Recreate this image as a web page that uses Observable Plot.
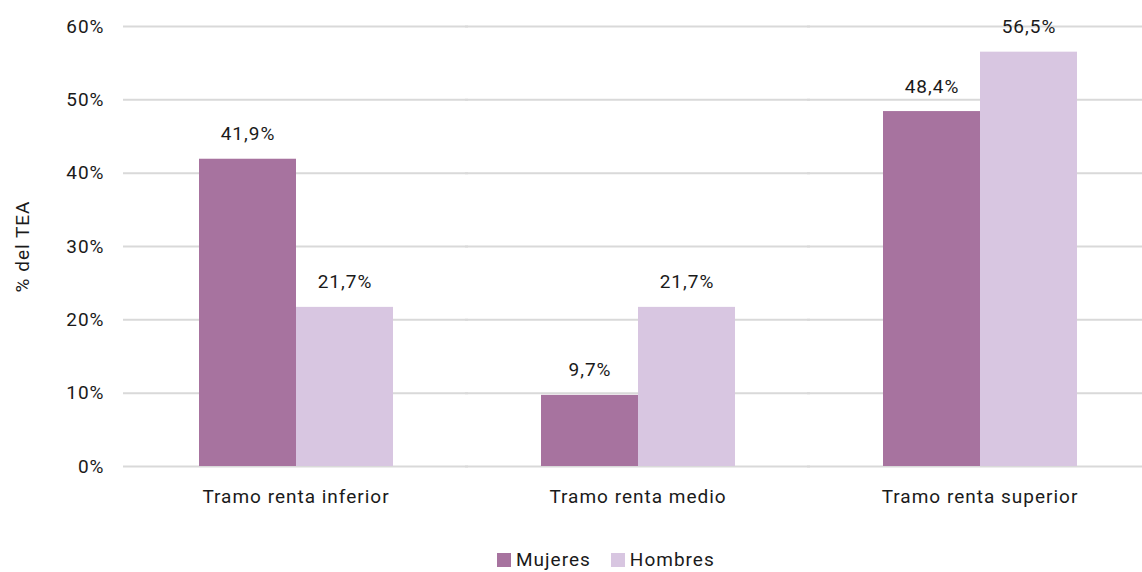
<!DOCTYPE html>
<html>
<head>
<meta charset="utf-8">
<script src="https://cdn.jsdelivr.net/npm/d3@7"></script>
<script src="https://cdn.jsdelivr.net/npm/@observablehq/plot@0.6"></script>
<style>
  html, body { margin: 0; padding: 0; background: #fff; }
  body { width: 1142px; height: 572px; overflow: hidden; font-family: Roboto, "Noto Sans", sans-serif; color: #1a1a1a; }
  #legend { display: flex; gap: 20px; font-size: 19px; letter-spacing: 1px; line-height: 20px; margin-left: 497px; padding-top: 2px; }
  #legend span.item { display: flex; align-items: center; gap: 5px; }
  #legend span.sw { width: 14px; height: 14px; display: inline-block; }
</style>
</head>
<body>
<div id="chart"></div>
<div id="legend"></div>
<script>
const categories = ["Tramo renta inferior", "Tramo renta medio", "Tramo renta superior"];
const series = ["Mujeres", "Hombres"];
const mujeres = [41.9, 9.7, 48.4];
const hombres = [21.7, 21.7, 56.5];
const yTicks = [0, 10, 20, 30, 40, 50, 60];
const colors = ["#a7739f", "#d8c6e1"];

const rows = [];
categories.forEach((c, i) => {
  rows.push({cat: c, sex: "Mujeres", value: mujeres[i]});
  rows.push({cat: c, sex: "Hombres", value: hombres[i]});
});
const fmt = v => v.toFixed(1).replace(".", ",") + "%";

const chart = Plot.plot({
  width: 1142,
  height: 548,
  marginLeft: 125,
  marginRight: 0,
  marginTop: 26,
  marginBottom: 82,
  style: {fontFamily: "Roboto, 'Noto Sans', sans-serif", fontSize: "19px", letterSpacing: "1px", color: "#1a1a1a", background: "#fff"},
  fx: {domain: categories, paddingInner: 0.4307, paddingOuter: 0.1996, align: 0.527, label: null, axis: "bottom", tickSize: 0, tickPadding: 23},
  x: {domain: series, padding: 0, axis: null},
  y: {domain: [0, 60], ticks: yTicks, tickFormat: d => d + "%", tickSize: 0, tickPadding: 94, label: "% del TEA", labelArrow: "none", labelAnchor: "center", labelOffset: 183},
  color: {domain: series, range: colors},
  marks: [
    Plot.ruleY(yTicks, {stroke: "#d9d9d9", strokeWidth: 2, insetLeft: -75, insetRight: -75}),
    Plot.barY(rows, {fx: "cat", x: "sex", y: "value", fill: "sex"}),
    Plot.text(rows, {fx: "cat", x: "sex", y: "value", text: d => fmt(d.value), dy: -25, fill: "#1a1a1a", fontSize: 19})
  ]
});
document.getElementById("chart").appendChild(chart);

const legend = document.getElementById("legend");
series.forEach((s, i) => {
  const item = document.createElement("span");
  item.className = "item";
  const sw = document.createElement("span");
  sw.className = "sw";
  sw.style.background = colors[i];
  item.appendChild(sw);
  item.appendChild(document.createTextNode(s));
  legend.appendChild(item);
});
</script>
</body>
</html>
